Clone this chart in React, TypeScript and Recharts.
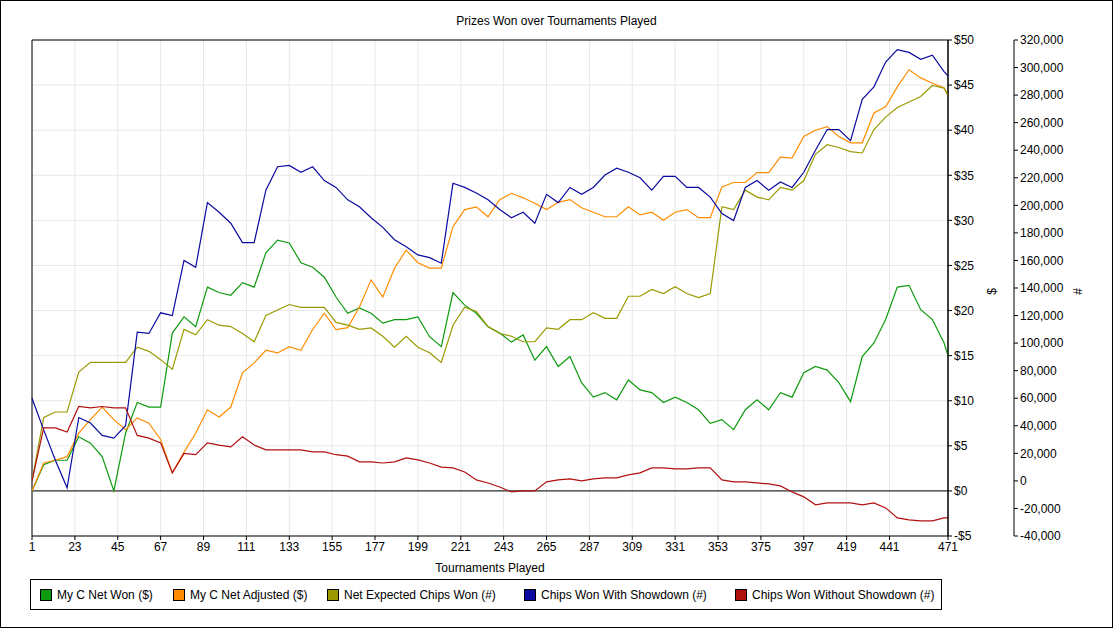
import React from 'react';
import { LineChart, Line, XAxis, YAxis, CartesianGrid, ReferenceLine, Label } from 'recharts';

// tournament numbers at which values were read
const tournaments = [
  1, 7, 13, 19, 25, 31, 37, 43, 49, 55, 61, 67, 73, 79, 85, 91, 97, 103, 109, 115,
  121, 127, 133, 139, 145, 151, 157, 163, 169, 175, 181, 187, 193, 199, 205, 211, 217, 223, 229, 235,
  241, 247, 253, 259, 265, 271, 277, 283, 289, 295, 301, 307, 313, 319, 325, 331, 337, 343, 349, 355,
  361, 367, 373, 379, 385, 391, 397, 403, 409, 415, 421, 427, 433, 439, 445, 451, 457, 463, 469, 471,
];

// $ axis
const netWon = [
  0, 2.9, 3.4, 3.4, 6.0, 5.3, 3.8, 0, 6.4, 9.8, 9.3, 9.3, 17.5, 19.3, 18.2, 22.6, 22.0, 21.7, 23.1, 22.6,
  26.4, 27.8, 27.5, 25.3, 24.8, 23.7, 21.5, 19.7, 20.3, 19.7, 18.6, 19.0, 19.0, 19.3, 17.1, 16.0, 22.0, 20.6, 19.7, 18.2,
  17.5, 16.5, 17.3, 14.5, 16.0, 13.8, 14.9, 12.0, 10.4, 10.9, 10.1, 12.3, 11.2, 10.9, 9.8, 10.4, 9.8, 9.0, 7.5, 7.9,
  6.8, 9.0, 10.1, 9.0, 10.9, 10.4, 13.1, 13.8, 13.4, 12.0, 9.9, 14.9, 16.4, 19.0, 22.6, 22.8, 20.1, 19.0, 16.4, 15.0,
];
const netAdjusted = [
  0, 3.1, 3.4, 3.8, 6.4, 7.9, 9.3, 7.9, 6.8, 8.1, 7.5, 5.7, 2.0, 4.3, 6.4, 9.0, 8.2, 9.3, 13.1, 14.2,
  15.6, 15.3, 16.0, 15.6, 17.9, 19.7, 17.9, 18.1, 20.4, 23.4, 21.5, 24.7, 26.7, 25.3, 24.7, 24.7, 29.3, 31.2, 31.5, 30.4,
  32.3, 33.0, 32.5, 31.9, 31.2, 32.0, 32.3, 31.4, 30.9, 30.4, 30.4, 31.5, 30.6, 30.9, 30.0, 30.9, 31.2, 30.3, 30.3, 33.7,
  34.2, 34.2, 35.3, 35.3, 37.0, 36.9, 39.3, 40.0, 40.4, 39.3, 38.6, 38.6, 41.9, 42.6, 44.8, 46.7, 45.8, 45.2, 44.7, 43.9,
];

// # axis
const expectedChips = [
  0, 46000, 50000, 50000, 79000, 86000, 86000, 86000, 86000, 97000, 94000, 88000, 81000, 110000, 106000, 117000, 113000, 112000, 107000, 101000,
  120000, 124000, 128000, 126000, 126000, 126000, 115000, 113000, 110000, 111000, 105000, 97000, 105000, 97000, 93000, 86000, 113000, 126000, 123000, 112000,
  107000, 105000, 101000, 101000, 111000, 110000, 117000, 117000, 122000, 118000, 118000, 134000, 134000, 139000, 136000, 141000, 136000, 133000, 136000, 199000,
  197000, 211000, 206000, 204000, 213000, 211000, 218000, 237000, 244000, 242000, 239000, 238000, 255000, 264000, 271000, 275000, 279000, 287000, 285000, 280000,
];
const withShowdown = [
  60000, 37000, 15000, -5000, 46000, 42000, 33000, 31000, 40000, 108000, 107000, 122000, 120000, 160000, 155000, 202000, 195000, 187000, 173000, 173000,
  211000, 228000, 229000, 224000, 228000, 218000, 213000, 204000, 199000, 191000, 184000, 175000, 170000, 164000, 162000, 158000, 216000, 213000, 209000, 204000,
  197000, 191000, 195000, 187000, 208000, 202000, 213000, 208000, 213000, 222000, 227000, 224000, 220000, 211000, 221000, 221000, 213000, 213000, 206000, 194000,
  189000, 213000, 218000, 211000, 217000, 213000, 224000, 240000, 255000, 255000, 247000, 277000, 286000, 304000, 313000, 311000, 306000, 309000, 297000, 294000,
];
const withoutShowdown = [
  0, 38500, 38500, 35500, 54000, 53000, 54000, 53000, 53000, 33000, 31000, 27600, 5800, 20000, 19000, 27600, 26000, 24700, 32000, 26000,
  22500, 22500, 22500, 22500, 21000, 21000, 19000, 18000, 13800, 13800, 13000, 13800, 16700, 15200, 13000, 10000, 9400, 6500, 700, -1500,
  -4400, -8000, -7300, -7300, -700, 700, 1500, 0, 1500, 2200, 2200, 4400, 5800, 9400, 9400, 8700, 8700, 9400, 9400, 700,
  -700, -700, -1500, -2200, -3600, -8000, -11600, -17400, -16000, -16000, -16000, -17400, -16000, -19600, -26900, -28300, -29000, -29000, -26900, -26900,
];

const xTicks = [1, 23, 45, 67, 89, 111, 133, 155, 177, 199, 221, 243, 265, 287, 309, 331, 353, 375, 397, 419, 441, 471];
const dollarTicks = [-5, 0, 5, 10, 15, 20, 25, 30, 35, 40, 45, 50];
const chipTicks = [-40000, -20000, 0, 20000, 40000, 60000, 80000, 100000, 120000, 140000, 160000, 180000, 200000, 220000, 240000, 260000, 280000, 300000, 320000];

const series = [
  { key: 'netWon', name: 'My C Net Won ($)', color: '#0e9a0e', axis: 'a', values: netWon },
  { key: 'netAdjusted', name: 'My C Net Adjusted ($)', color: '#ff8c00', axis: 'a', values: netAdjusted },
  { key: 'expectedChips', name: 'Net Expected Chips Won (#)', color: '#9a9a00', axis: 'b', values: expectedChips },
  { key: 'withShowdown', name: 'Chips Won With Showdown (#)', color: '#0a0aa0', axis: 'b', values: withShowdown },
  { key: 'withoutShowdown', name: 'Chips Won Without Showdown (#)', color: '#b01010', axis: 'b', values: withoutShowdown },
];

const data = tournaments.map((t, i) => {
  const row: Record<string, number> = { t };
  series.forEach((s) => (row[s.key] = s.values[i]));
  return row;
});

const font = '"Liberation Sans", Arial, sans-serif';
const tickStyle = { fontSize: 12, fill: '#000', fontFamily: font };
const legendX = [40, 173, 327, 524, 735];

const fmtUsd = (v: number) => (v < 0 ? `-$${-v}` : `$${v}`);
const fmtChips = (v: number) => v.toLocaleString('en-US');

export default function App() {
  return (
    <div style={{ position: 'absolute', left: 0, top: 0, width: 1113, height: 628, background: '#fff', fontFamily: font }}>
      <div style={{ position: 'absolute', left: 0, top: 0, width: 1111, height: 626, border: '1px solid #000' }} />
      <div style={{ position: 'absolute', top: 14, width: 1113, textAlign: 'center', fontSize: 12 }}>
        Prizes Won over Tournaments Played
      </div>
      <LineChart width={1113} height={628} data={data} margin={{ top: 40, left: 32, right: 24, bottom: 52 }}>
        <CartesianGrid stroke="#e8e8e8" yAxisId="a" />
        <XAxis
          dataKey="t"
          type="number"
          domain={[1, 471]}
          ticks={xTicks}
          interval={0}
          tick={tickStyle}
          tickSize={4}
          stroke="#000"
          height={40}
        >
          <Label value="Tournaments Played" position="insideBottom" offset={4} style={tickStyle} />
        </XAxis>
        <YAxis
          yAxisId="a"
          orientation="right"
          domain={[-5, 50]}
          ticks={dollarTicks}
          tickFormatter={fmtUsd}
          tick={{ ...tickStyle, textAnchor: 'start' }}
          tickSize={4}
          stroke="#000"
          width={66}
        >
          <Label value="$" angle={-90} position="insideRight" offset={22} style={tickStyle} />
        </YAxis>
        <YAxis
          yAxisId="b"
          orientation="right"
          domain={[-40000, 320000]}
          ticks={chipTicks}
          tickFormatter={fmtChips}
          tick={{ ...tickStyle, textAnchor: 'start' }}
          tickSize={4}
          stroke="#000"
          width={75}
        >
          <Label value="#" angle={-90} position="insideRight" offset={11} style={tickStyle} />
        </YAxis>
        <ReferenceLine yAxisId="a" y={0} stroke="#000" />
        <ReferenceLine yAxisId="a" y={50} stroke="#000" />
        <ReferenceLine yAxisId="a" x={1} stroke="#000" />
        <ReferenceLine yAxisId="a" x={471} stroke="#000" />
        {series.map((s) => (
          <Line
            key={s.key}
            yAxisId={s.axis}
            dataKey={s.key}
            name={s.name}
            stroke={s.color}
            strokeWidth={1.2}
            dot={false}
            type="linear"
            isAnimationActive={false}
          />
        ))}
      </LineChart>
      <div style={{ position: 'absolute', left: 30, top: 579, width: 910, height: 29, border: '1px solid #000', fontSize: 12 }}>
        {series.map((s, i) => (
          <div key={s.key} style={{ position: 'absolute', left: legendX[i] - 31, top: 8, display: 'flex', alignItems: 'center' }}>
            <span style={{ display: 'inline-block', width: 10, height: 10, background: s.color, border: '1px solid #000', marginRight: 5 }} />
            {s.name}
          </div>
        ))}
      </div>
    </div>
  );
}
